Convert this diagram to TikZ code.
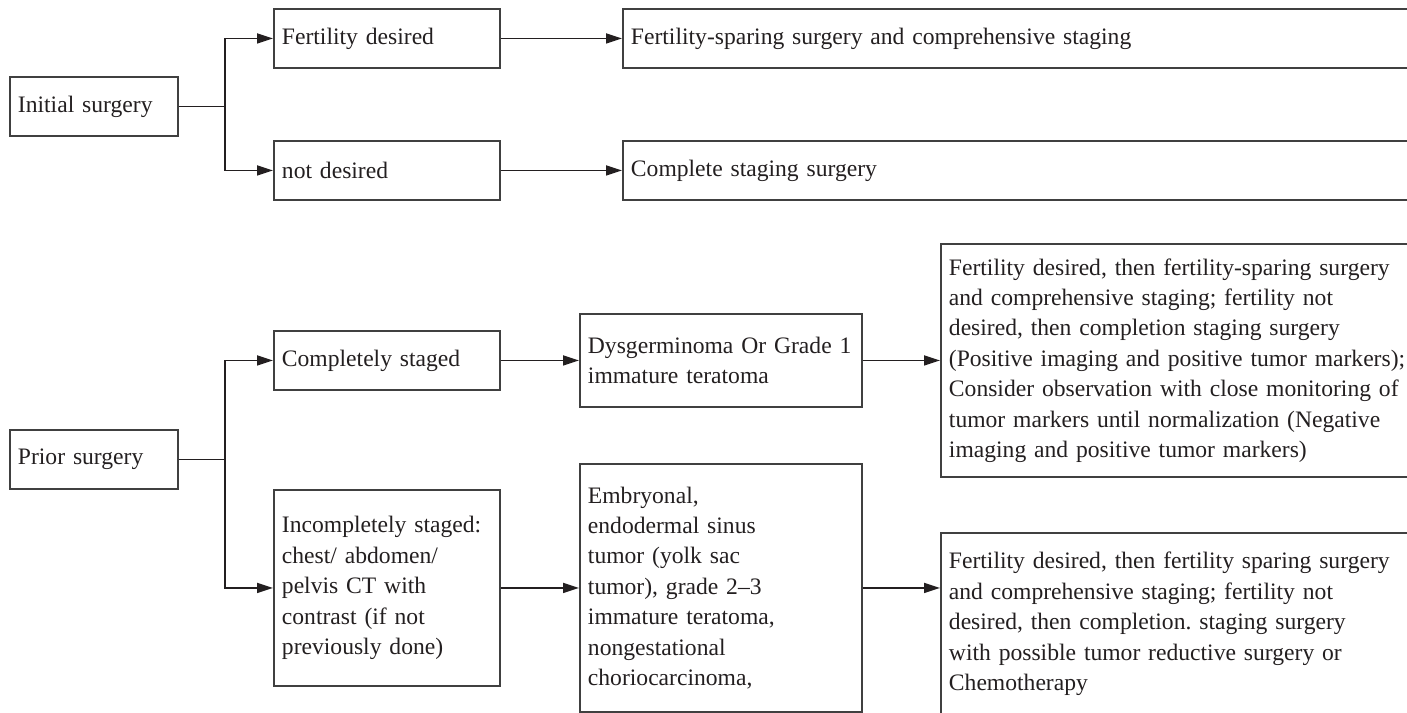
\documentclass[tikz,border=0pt]{standalone}
\usepackage{fontspec}
\setmainfont{Liberation Serif}
\usetikzlibrary{arrows.meta}
\definecolor{ink}{HTML}{231F20}
\definecolor{edge}{HTML}{404040}
\newcommand{\nohyph}{\frenchspacing\hyphenpenalty=10000\exhyphenpenalty=10000\relax}
\begin{document}
\begin{tikzpicture}[x=0.5pt,y=-0.5pt,
  box/.style={draw=edge, line width=0.95pt, text=ink, inner xsep=4pt, inner ysep=0pt,
    align=left, anchor=north west,
    font=\fontsize{11.8}{15.2}\selectfont, execute at begin node=\nohyph},
  arr/.style={draw=ink, line width=0.8pt, -{Triangle[length=8pt,width=5pt]}},
  ln/.style={draw=ink, line width=0.8pt}]
\useasboundingbox (0,0) rectangle (1407,712);
\clip (0,0) rectangle (1407,712);
% top section
\node[box, text width=76pt, minimum height=29.5pt] (init) at (9,76) {Initial surgery};
\node[box, text width=105pt, minimum height=29.5pt] (fd) at (273,8) {Fertility desired};
\node[box, text width=105pt, minimum height=29.5pt] (nd) at (273,140) {not desired};
\node[box, text width=390pt, minimum height=29.5pt] (fss) at (622,8) {Fertility-sparing surgery and comprehensive staging};
\node[box, text width=390pt, minimum height=29.5pt] (css) at (622,140) {Complete staging surgery};
% bottom section
\node[box, text width=76pt, minimum height=29.5pt] (prior) at (9,429) {Prior surgery};
\node[box, text width=105pt, minimum height=29.5pt] (cs) at (273,330) {Completely staged};
\node[box, text width=105pt, minimum height=98pt] (is) at (273,489) {Incompletely staged:\\chest/ abdomen/\\pelvis CT with\\contrast (if not\\previously done)};
\node[box, text width=133pt, minimum height=46.5pt] (dys) at (579,313) {Dysgerminoma Or Grade 1\\immature teratoma};
\node[box, text width=133pt, minimum height=124pt] (emb) at (579,463) {Embryonal,\\endodermal sinus\\tumor (yolk sac\\tumor), grade 2–3\\immature teratoma,\\nongestational\\choriocarcinoma,};
\node[box, text width=240pt, minimum height=116.5pt] (r1) at (940,243) {Fertility desired, then fertility-sparing surgery\\and comprehensive staging; fertility not\\desired, then completion staging surgery\\(Positive imaging and positive tumor markers);\\Consider observation with close monitoring of\\tumor markers until normalization (Negative\\imaging and positive tumor markers)};
\node[box, text width=240pt, minimum height=91pt] (r2) at (940,532) {Fertility desired, then fertility sparing surgery\\and comprehensive staging; fertility not\\desired, then completion. staging surgery\\with possible tumor reductive surgery or\\Chemotherapy};
% connectors top
\draw[ln] (init.east) -- ++(46,0) coordinate (b1);
\draw[arr] (b1) |- (fd.west);
\draw[arr] (b1) |- (nd.west);
\draw[arr] (fd.east) -- (fss.west);
\draw[arr] (nd.east) -- (css.west);
% connectors bottom
\draw[ln] (prior.east) -- ++(46,0) coordinate (b2);
\draw[arr] (b2) |- (cs.west);
\draw[arr] (b2) |- (is.west);
\draw[arr] (cs.east) -- (cs.east -| dys.west);
\draw[arr] (is.east) -- (emb.west);
\draw[arr] (dys.east) -- (dys.east -| r1.west);
\draw[arr] (emb.east) -- (emb.east -| r2.west);
\end{tikzpicture}
\end{document}
